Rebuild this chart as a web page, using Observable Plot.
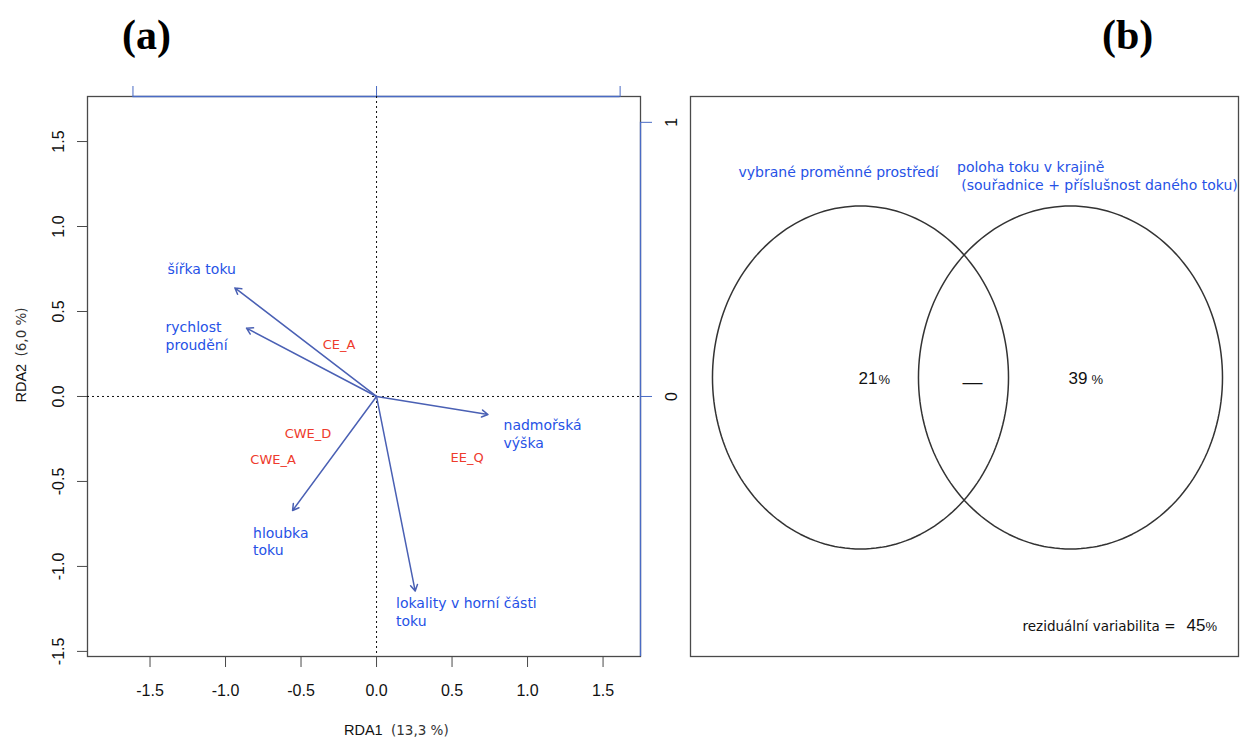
<!DOCTYPE html>
<html>
<head>
<meta charset="utf-8">
<script src="https://cdn.jsdelivr.net/npm/d3@7"></script>
<script src="https://cdn.jsdelivr.net/npm/@observablehq/plot@0.6"></script>
<style>
  body { margin: 0; background: #fff; }
  #wrap { position: relative; width: 1240px; height: 741px; overflow: hidden; background: #fff; }
  .panel-label { position: absolute; font-family: "Liberation Serif"; font-weight: bold; font-size: 42px; line-height: 1; color: #000; }
  .pl { position: absolute; top: 60px; }
</style>
</head>
<body>
<div id="wrap">
  <div class="panel-label" style="left:122px;top:14px">(a)</div>
  <div class="panel-label" style="left:1102px;top:14px">(b)</div>
  <div id="pa" class="pl" style="left:0px"></div>
  <div id="pb" class="pl" style="left:680px"></div>
</div>
<script>
// ---------- Panel (a): RDA biplot data ----------
const xTicks = [-1.5, -1.0, -0.5, 0.0, 0.5, 1.0, 1.5];
const yTicks = [-1.5, -1.0, -0.5, 0.0, 0.5, 1.0, 1.5];
const topTicks = [-1, 0, 1];        // secondary (site-score) axis, top
const rightTicks = [0, 1];          // secondary axis, right
const secondaryScale = 1.613;       // secondary axis unit in primary units

const xAxisTitle = "RDA1";
const xAxisPct = "(13,3 %)";
const yAxisTitle = "RDA2";
const yAxisPct = "(6,0 %)";

// environmental vectors (arrow tips) and their label anchors
const envNames = ["šířka toku", "rychlost\nproudění", "nadmořská\nvýška", "hloubka\ntoku", "lokality v horní části\ntoku"];
const envX = [-0.938, -0.861, 0.738, -0.556, 0.256];
const envY = [0.639, 0.402, -0.106, -0.671, -1.145];
const envLabelX = [-1.384, -1.397, 0.841, -0.818, 0.129];
const envLabelY = [0.753, 0.359, -0.216, -0.850, -1.266];

// centroids (red labels)
const siteNames = ["CE_A", "CWE_D", "CWE_A", "EE_Q"];
const siteX = [-0.248, -0.454, -0.685, 0.600];
const siteY = [0.304, -0.221, -0.372, -0.359];

// ---------- Panel (b): variation partitioning ----------
const vennSets = ["vybrané proměnné prostředí", "poloha toku v krajině"];
const vennSetNote = "(souřadnice + příslušnost daného toku)";
const vennUnique = [21, 39];
const vennShared = "—";
const residualLabel = "reziduální variabilita =";
const residualValue = 45;

// ---------- styles ----------
const axisBlue = "#4a6bc4";
const arrowBlue = "#4a60b4";
const labelBlue = "#2652e6";
const siteRed = "#ee3a2c";
const frameGray = "#4a4a4a";
const textDark = "#111";

const xDom = [-1.914, 1.748];
const yDom = [-1.53, 1.765];
const f = secondaryScale;

const env = envNames.map((name, i) => ({name, x: envX[i], y: envY[i], lx: envLabelX[i], ly: envLabelY[i]}));
const sites = siteNames.map((name, i) => ({name, x: siteX[i], y: siteY[i]}));

const plotA = Plot.plot({
  width: 680, height: 681,
  marginLeft: 87, marginRight: 40, marginTop: 36, marginBottom: 85,
  x: {domain: xDom},
  y: {domain: yDom},
  style: {fontFamily: "Liberation Sans", background: "transparent", overflow: "visible", color: textDark},
  marks: [
    Plot.frame({stroke: frameGray, strokeWidth: 1.3}),
    // secondary blue axes
    Plot.ruleY([yDom[1]], {x1: topTicks[0] * f, x2: topTicks[topTicks.length - 1] * f, stroke: axisBlue, strokeWidth: 1.3}),
    Plot.ruleX([xDom[1]], {y1: yDom[0], y2: rightTicks[rightTicks.length - 1] * f, stroke: axisBlue, strokeWidth: 1.3}),
    Plot.axisX({anchor: "top", ticks: topTicks.map(d => d * f), tickSize: 11, tickFormat: () => "", stroke: axisBlue, label: null}),
    Plot.axisY({anchor: "right", ticks: rightTicks.map(d => d * f), tickSize: 11, tickFormat: () => "", stroke: axisBlue, label: null}),
    Plot.text(rightTicks, {y: d => d * f, frameAnchor: "right", text: d => String(d), rotate: -90, textAnchor: "middle", lineAnchor: "bottom", dx: 36, fontSize: 16, fill: textDark}),
    // primary axes
    Plot.axisX({anchor: "bottom", ticks: xTicks, tickSize: 11, tickPadding: 17, tickFormat: d => d.toFixed(1), fontSize: 16, stroke: frameGray, fill: textDark, label: null}),
    Plot.axisY({anchor: "left", ticks: yTicks, tickSize: 10, tickFormat: () => "", stroke: frameGray, label: null}),
    Plot.text(yTicks, {y: d => d, frameAnchor: "left", text: d => d.toFixed(1), rotate: -90, textAnchor: "middle", lineAnchor: "bottom", dx: -24, fontSize: 16, fill: textDark}),
    // axis titles
    Plot.text([xAxisTitle], {frameAnchor: "bottom", textAnchor: "start", dx: -20, dy: 78, fontSize: 14.5, fill: textDark}),
    Plot.text([xAxisPct], {frameAnchor: "bottom", textAnchor: "start", dx: 27, dy: 78, fontSize: 13.5, fontFamily: "DejaVu Sans", fill: "#333"}),
    Plot.text([yAxisTitle], {frameAnchor: "left", rotate: -90, textAnchor: "start", lineAnchor: "bottom", dx: -62, dy: 26, fontSize: 14.5, fill: textDark}),
    Plot.text([yAxisPct], {frameAnchor: "left", rotate: -90, textAnchor: "start", lineAnchor: "bottom", dx: -62, dy: -20, fontSize: 13.5, fontFamily: "DejaVu Sans", fill: "#333"}),
    // dotted zero lines
    Plot.ruleX([0], {stroke: "#111", strokeDasharray: "2,3", strokeWidth: 1}),
    Plot.ruleY([0], {stroke: "#111", strokeDasharray: "2,3", strokeWidth: 1}),
    // arrows
    Plot.arrow(env, {x1: 0, y1: 0, x2: "x", y2: "y", stroke: arrowBlue, strokeWidth: 1.5, headLength: 7, headAngle: 60}),
    Plot.text(env, {x: "lx", y: "ly", text: "name", textAnchor: "start", lineAnchor: "middle", lineHeight: 1.25, fill: labelBlue, fontSize: 14, fontFamily: "DejaVu Sans"}),
    Plot.text(sites, {x: "x", y: "y", text: "name", fill: siteRed, fontSize: 13, fontFamily: "DejaVu Sans"})
  ]
});
document.getElementById("pa").appendChild(plotA);

// ---------- Panel (b) ----------
// layout of the two ellipses in the panel's unit square
const ellipseLayout = [
  {cx: 0.3102, cy: 0.4982, rx: 0.2701, ry: 0.3063},
  {cx: 0.6934, cy: 0.4982, rx: 0.2774, ry: 0.3063}
];
const ellipsePts = ellipseLayout.flatMap((e, k) =>
  d3.range(0, 360, 2).map(a => ({k, x: e.cx + e.rx * Math.cos(a * Math.PI / 180), y: e.cy + e.ry * Math.sin(a * Math.PI / 180)}))
);
const uniq = vennUnique.map((v, i) => ({v, x: ellipseLayout[i].cx, y: ellipseLayout[i].cy}));
const pctOffset = [18, 21];

const plotB = Plot.plot({
  width: 560, height: 681,
  marginLeft: 10, marginRight: 2, marginTop: 36, marginBottom: 85,
  x: {domain: [0, 1], axis: null},
  y: {domain: [0, 1], axis: null},
  style: {fontFamily: "Liberation Sans", background: "transparent", overflow: "visible", color: textDark},
  marks: [
    Plot.frame({stroke: frameGray, strokeWidth: 1.3}),
    Plot.line(ellipsePts, {x: "x", y: "y", z: "k", curve: "linear-closed", stroke: "#333", strokeWidth: 1.5}),
    // set names
    Plot.text([vennSets[0]], {x: 0.0876, y: 0.8648, textAnchor: "start", fill: labelBlue, fontSize: 14, fontFamily: "DejaVu Sans"}),
    Plot.text([vennSets[1]], {x: 0.4863, y: 0.8732, textAnchor: "start", fill: labelBlue, fontSize: 14, fontFamily: "DejaVu Sans"}),
    Plot.text([vennSetNote], {x: 0.4940, y: 0.8410, textAnchor: "start", fill: labelBlue, fontSize: 14, fontFamily: "DejaVu Sans"}),
    // unique fractions
    Plot.text(uniq, {x: "x", y: "y", text: d => String(d.v), textAnchor: "start", lineAnchor: "bottom", dx: -2, dy: 6, fontSize: 17, fill: textDark}),
    Plot.text(uniq.slice(0, 1), {x: "x", y: "y", text: () => "%", textAnchor: "start", lineAnchor: "bottom", dx: pctOffset[0], dy: 6, fontSize: 13, fill: textDark}),
    Plot.text(uniq.slice(1), {x: "x", y: "y", text: () => "%", textAnchor: "start", lineAnchor: "bottom", dx: pctOffset[1], dy: 6, fontSize: 13, fill: textDark}),
    // shared fraction
    Plot.text([vennShared], {x: (ellipseLayout[0].cx + ellipseLayout[0].rx + ellipseLayout[1].cx - ellipseLayout[1].rx) / 2, y: ellipseLayout[0].cy, dx: 9, dy: 5, fontSize: 20, fill: textDark}),
    // residual
    Plot.text([residualLabel], {frameAnchor: "bottom-right", textAnchor: "start", lineAnchor: "bottom", dx: -216, dy: -26, fontSize: 13.5, fontFamily: "DejaVu Sans", fill: textDark}),
    Plot.text([String(residualValue)], {frameAnchor: "bottom-right", textAnchor: "start", lineAnchor: "bottom", dx: -52, dy: -26, fontSize: 17, fill: textDark}),
    Plot.text(["%"], {frameAnchor: "bottom-right", textAnchor: "start", lineAnchor: "bottom", dx: -33, dy: -26, fontSize: 13, fill: textDark})
  ]
});
document.getElementById("pb").appendChild(plotB);
</script>
</body>
</html>
